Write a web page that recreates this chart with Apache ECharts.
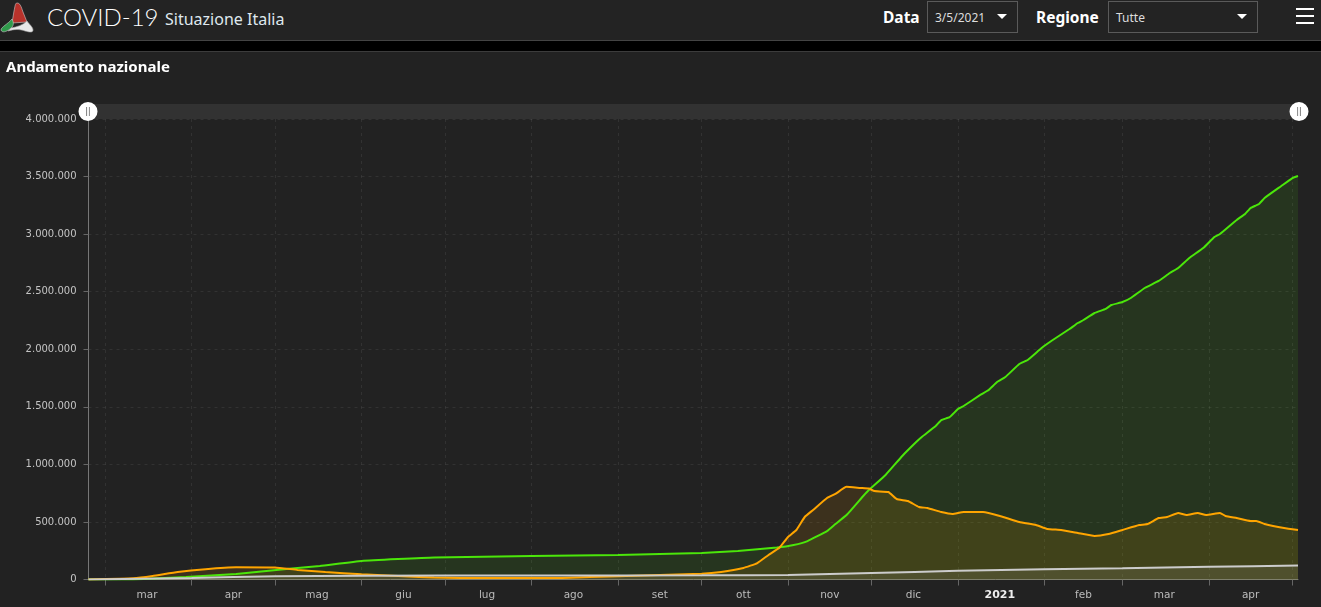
<!DOCTYPE html>
<html><head><meta charset="utf-8">
<script src="https://cdn.jsdelivr.net/npm/echarts@6/dist/echarts.min.js"></script>
<style>
html,body{margin:0;padding:0;background:#000;width:1321px;height:607px;overflow:hidden;font-family:"Noto Sans",sans-serif;color:#fff}
#top{position:absolute;left:0;top:0;width:1321px;height:40px;background:#232323;border-bottom:1px solid #444}
#panel{position:absolute;left:0;top:51px;width:1321px;height:556px;background:#222;border-top:1px solid #3c3c3c;box-sizing:border-box}
#chart{position:absolute;left:0;top:52px;width:1321px;height:555px}
.t{position:absolute;white-space:nowrap}
.box{position:absolute;top:1px;border:1px solid #5a5a5a;font-size:12px;line-height:31px;color:#ddd;padding-left:7px;box-sizing:border-box;height:32px}
.caret{position:absolute;top:14px;width:0;height:0;border-left:5px solid transparent;border-right:5px solid transparent;border-top:5px solid #fff}
.bar{position:absolute;left:1296px;width:18px;height:2px;background:#fff}
</style></head><body>
<div id="panel"></div>
<div id="chart"></div>
<div id="top">
<svg class="t" style="left:0;top:2px" width="36" height="32" viewBox="0 0 36 32">
<path d="M17 1 C20 1 21 4 23 10 L27 20 L12 21 L14 9 C15 5 15 1 17 1Z" fill="#b8322b" stroke="#ccc" stroke-width=".6"/>
<path d="M12 17 C14 21 14 24 10 27 C6 30 2 31 1 28 C1 25 8 22 12 17Z" fill="#2f9a4b" stroke="#ccc" stroke-width=".6"/>
<path d="M11 26 C17 25 23 23 27 19 C29 22 33 25 33 28 C33 31 29 30 25 29 C20 27 14 27 8 29Z" fill="#e8e8e8" stroke="#aaa" stroke-width=".6"/>
</svg>
<div class="t" style="left:47px;top:-1px;font-family:Lato;font-size:24px;font-weight:300;line-height:36px">COVID-19</div>
<div class="t" style="left:165px;top:1px;font-size:16px;line-height:36px;color:#dfe8ee">Situazione Italia</div>
<div class="t" style="left:883px;top:0;font-size:15.5px;font-weight:700;line-height:34px">Data</div>
<div class="box" style="left:927px;width:91px">3/5/2021</div><div class="caret" style="left:997px"></div>
<div class="t" style="left:1036px;top:0;font-size:15.5px;font-weight:700;line-height:34px">Regione</div>
<div class="box" style="left:1108px;width:150px">Tutte</div><div class="caret" style="left:1237px"></div>
<div class="bar" style="top:8px"></div><div class="bar" style="top:15px"></div><div class="bar" style="top:22px"></div>
</div>
<div class="t" style="left:6px;top:56px;font-size:15px;font-weight:700;line-height:20px">Andamento nazionale</div>
<script>
const monthTicks = ['2020-03-01','2020-04-01','2020-05-01','2020-06-01','2020-07-01','2020-08-01','2020-09-01','2020-10-01','2020-11-01','2020-12-01','2021-01-01','2021-02-01','2021-03-01','2021-04-01','2021-05-01'];
const monthLabelDates = ['2020-03-16','2020-04-16','2020-05-16','2020-06-16','2020-07-16','2020-08-16','2020-09-16','2020-10-16','2020-11-16','2020-12-16','2021-01-16','2021-02-15','2021-03-16','2021-04-16'];
const monthLabels = ['mar','apr','mag','giu','lug','ago','set','ott','nov','dic','2021','feb','mar','apr'];
const guariti = [['2020-02-24',0],['2020-03-11',1000],['2020-03-30',22000],['2020-04-17',48000],['2020-05-05',91000],['2020-05-17',117000],['2020-06-01',161000],['2020-06-27',191000],['2020-08-01',204000],['2020-09-01',213000],['2020-10-01',230000],['2020-10-14',248000],['2020-10-28',278000],['2020-11-03',300000],['2020-11-08',334000],['2020-11-15',421000],['2020-11-18',482000],['2020-11-22',560000],['2020-11-28',725000],['2020-11-30',777000],['2020-12-06',908000],['2020-12-12',1073000],['2020-12-17',1194000],['2020-12-19',1238000],['2020-12-24',1333000],['2020-12-26',1385000],['2020-12-29',1411000],['2021-01-01',1481000],['2021-01-03',1507000],['2021-01-09',1603000],['2021-01-12',1646000],['2021-01-15',1715000],['2021-01-18',1759000],['2021-01-23',1872000],['2021-01-26',1907000],['2021-01-31',2011000],['2021-02-04',2080000],['2021-02-10',2176000],['2021-02-13',2228000],['2021-02-15',2254000],['2021-02-19',2315000],['2021-02-23',2350000],['2021-02-25',2384000],['2021-03-01',2410000],['2021-03-04',2445000],['2021-03-09',2532000],['2021-03-14',2593000],['2021-03-18',2662000],['2021-03-21',2706000],['2021-03-25',2793000],['2021-03-30',2879000],['2021-04-03',2975000],['2021-04-05',3001000],['2021-04-11',3123000],['2021-04-14',3175000],['2021-04-16',3227000],['2021-04-19',3262000],['2021-04-21',3314000],['2021-04-27',3418000],['2021-05-01',3487000],['2021-05-03',3505000]];
const positivi = [['2020-02-24',0],['2020-03-11',10000],['2020-03-18',30000],['2020-03-27',65000],['2020-04-06',90000],['2020-04-17',106000],['2020-05-01',104000],['2020-05-09',83000],['2020-05-19',65000],['2020-06-01',45000],['2020-06-16',28000],['2020-06-27',17000],['2020-07-16',12000],['2020-08-12',14000],['2020-09-01',28000],['2020-10-01',50000],['2020-10-08',65000],['2020-10-16',100000],['2020-10-21',143000],['2020-10-25',213000],['2020-10-29',278000],['2020-11-01',369000],['2020-11-04',430000],['2020-11-07',543000],['2020-11-10',604000],['2020-11-15',708000],['2020-11-18',743000],['2020-11-22',805000],['2020-11-27',795000],['2020-11-30',790000],['2020-12-02',768000],['2020-12-07',760000],['2020-12-10',699000],['2020-12-14',682000],['2020-12-18',630000],['2020-12-21',621000],['2020-12-26',586000],['2020-12-30',569000],['2021-01-03',586000],['2021-01-10',586000],['2021-01-16',552000],['2021-01-23',499000],['2021-01-29',473000],['2021-02-02',439000],['2021-02-07',430000],['2021-02-13',404000],['2021-02-19',378000],['2021-02-24',395000],['2021-03-01',430000],['2021-03-07',473000],['2021-03-10',482000],['2021-03-14',534000],['2021-03-17',543000],['2021-03-21',578000],['2021-03-24',560000],['2021-03-28',578000],['2021-03-31',560000],['2021-04-05',578000],['2021-04-07',552000],['2021-04-11',534000],['2021-04-16',508000],['2021-04-18',508000],['2021-04-21',482000],['2021-04-28',447000],['2021-05-03',430000]];
const deceduti = [['2020-02-24',0],['2020-04-01',14000],['2020-05-01',28000],['2020-06-01',33000],['2020-08-01',35000],['2020-10-01',36000],['2020-11-01',39000],['2020-12-01',56000],['2021-01-01',75000],['2021-02-01',89000],['2021-03-01',98000],['2021-04-01',110000],['2021-05-03',121000]];
const xStart = '2020-02-24', xEnd = '2021-05-03';
const ts = s => Date.parse(s);
const lbl = {}; monthLabelDates.forEach((d,i)=>lbl[ts(d)]=monthLabels[i]);
const mk = (name,data,color,op)=>({name,type:'line',data:data.map(p=>[ts(p[0]),p[1]]),showSymbol:false,symbol:'none',smooth:0.12,
  lineStyle:{color,width:2},itemStyle:{color},areaStyle:{color,opacity:op},z:3});
const grid = 'rgba(255,255,255,0.075)';
const chart = echarts.init(document.getElementById('chart'),null,{renderer:'canvas'});
chart.setOption({
  animation:false,backgroundColor:'transparent',
  grid:{left:88.5,right:23,top:67,bottom:27.5},
  xAxis:{type:'value',min:ts(xStart),max:ts(xEnd),
    axisLine:{show:true,onZero:false,lineStyle:{color:'#777',width:1}},
    axisTick:{show:true,length:6,customValues:monthTicks.map(ts),lineStyle:{color:'#666'}},
    axisLabel:{customValues:monthLabelDates.map(ts),hideOverlap:false,margin:10,
      fontFamily:'DejaVu Sans',fontSize:10.5,color:'#bbb',
      formatter:v=>{const t=lbl[v];return t==='2021'?'{y|2021}':t;},
      rich:{y:{fontFamily:'DejaVu Sans',fontSize:11,fontWeight:'bold',color:'#eee'}}},
    splitLine:{show:true,lineStyle:{color:grid,type:[3,4]}}},
  yAxis:{type:'value',min:0,max:4000000,interval:500000,
    axisLine:{show:true,lineStyle:{color:'#777'}},
    axisTick:{show:true,length:5,lineStyle:{color:'#666'}},
    axisLabel:{fontFamily:'DejaVu Sans',fontSize:10,color:'#c4c4c4',margin:12,padding:[4,0,0,0],
      formatter:v=>String(v).replace(/\B(?=(\d{3})+$)/g,'.')},
    splitLine:{show:true,lineStyle:{color:grid,type:[3,4]}}},
  dataZoom:[{type:'slider',xAxisIndex:0,filterMode:'none',left:86,right:22,top:52,height:15,start:0,end:100,
    backgroundColor:'#303030',borderColor:'transparent',fillerColor:'rgba(255,255,255,0.01)',
    showDetail:false,showDataShadow:false,brushSelect:false,moveHandleSize:0,
    dataBackground:{lineStyle:{opacity:0},areaStyle:{opacity:0}},
    selectedDataBackground:{lineStyle:{opacity:0},areaStyle:{opacity:0}},
    handleSize:19,
    handleIcon:'path://M50 0A50 50 0 1 1 50 100A50 50 0 1 1 50 0ZM42 26V74H45V26ZM55 26V74H58V26Z',
    handleStyle:{color:'#fff',borderColor:'#fff',borderWidth:0}}],
  series:[mk('Guariti',guariti,'#4be60a',0.1),mk('Positivi',positivi,'#ffa500',0.12),mk('Deceduti',deceduti,'#cccccc',0.1)]
});
</script>
</body></html>
